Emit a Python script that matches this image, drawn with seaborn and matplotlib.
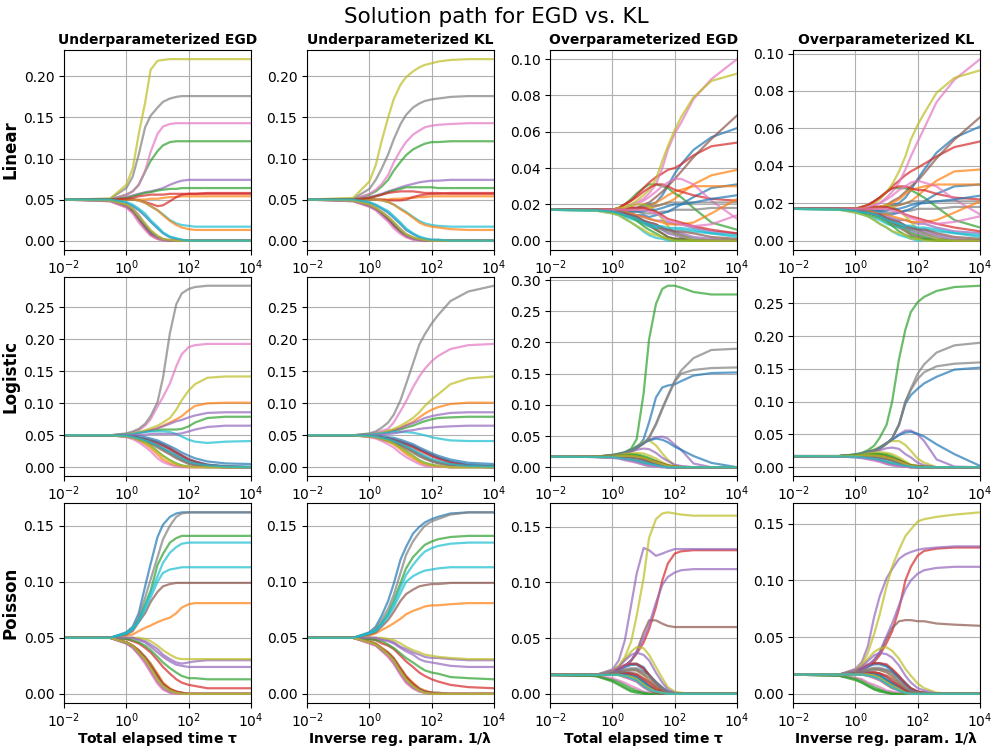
import pandas as pd
import matplotlib
matplotlib.use("Agg")
import matplotlib.pyplot as plt
from matplotlib.ticker import NullLocator, MultipleLocator
import seaborn as sns

plt.rcParams["xtick.labelsize"] = 10
plt.rcParams["ytick.labelsize"] = 10
plt.rcParams["xtick.major.pad"] = 2.5

# sample positions along the path (time tau or 1/lambda)
XS = [0.01, 0.3, 1, 1.6, 2.5, 4, 6, 10, 15, 25, 40, 60, 100, 160, 400, 1500, 10000]

# solution weights along the path, in units of 1e-3; one row per feature
lin_under_egd = [
    [50, 49, 43, 37, 29, 18, 10, 4, 1, 0, 0, 0, 0, 0, 0, 0, 0],
    [50, 50, 50, 50, 50, 50, 51, 51, 52, 53, 53, 54, 54, 54, 54, 54, 54],
    [50, 50, 56, 60, 68, 84, 97, 109, 116, 120, 121, 121, 121, 121, 121, 121, 121],
    [50, 50, 50, 50, 49, 47, 45, 42, 43, 48, 53, 56, 57, 57, 58, 58, 58],
    [50, 50, 53, 55, 57, 59, 60, 62, 64, 68, 71, 73, 74, 74, 74, 74, 74],
    [50, 49, 42, 36, 27, 16, 8, 3, 1, 0, 0, 0, 0, 0, 0, 0, 0],
    [50, 50, 56, 60, 68, 85, 108, 130, 139, 142, 143, 143, 143, 143, 143, 143, 143],
    [50, 51, 64, 78, 105, 138, 152, 162, 169, 173, 175, 176, 176, 176, 176, 176, 176],
    [50, 51, 68, 88, 130, 168, 208, 219, 220, 221, 221, 221, 221, 221, 221, 221, 221],
    [50, 50, 50, 50, 49, 46, 42, 37, 32, 25, 21, 19, 18, 17, 17, 17, 17],
    [50, 50, 46, 42, 37, 30, 23, 15, 9, 4, 2, 1, 0, 0, 0, 0, 0],
    [50, 50, 50, 50, 49, 46, 42, 37, 31, 24, 19, 16, 14, 13, 13, 13, 13],
    [50, 50, 52, 54, 56, 58, 59, 61, 62, 63, 63, 64, 64, 64, 64, 64, 64],
    [50, 50, 51, 52, 54, 55, 56, 56, 56, 57, 57, 57, 57, 57, 57, 57, 57],
    [50, 49, 44, 39, 31, 20, 12, 5, 2, 0, 0, 0, 0, 0, 0, 0, 0],
    [50, 48, 41, 35, 25, 15, 7, 2, 1, 0, 0, 0, 0, 0, 0, 0, 0],
    [50, 48, 40, 33, 22, 13, 6, 2, 0, 0, 0, 0, 0, 0, 0, 0, 0],
    [50, 49, 43, 38, 28, 19, 11, 5, 2, 0, 0, 0, 0, 0, 0, 0, 0],
    [50, 49, 44, 39, 30, 21, 13, 6, 2, 1, 0, 0, 0, 0, 0, 0, 0],
    [50, 50, 47, 44, 39, 33, 25, 17, 10, 5, 3, 1, 0, 0, 0, 0, 0],
]
lin_under_kl = [
    [50, 49, 43, 39, 34, 27, 20, 12, 6, 3, 1, 0, 0, 0, 0, 0, 0],
    [50, 50, 50, 50, 50, 50, 51, 51, 52, 52, 53, 53, 54, 54, 54, 54, 54],
    [50, 50, 56, 60, 66, 74, 85, 96, 104, 111, 115, 118, 120, 120, 121, 121, 121],
    [50, 50, 50, 50, 50, 49, 49, 49, 50, 53, 55, 56, 57, 57, 58, 58, 58],
    [50, 50, 53, 55, 57, 60, 62, 65, 67, 69, 71, 72, 73, 73, 74, 74, 74],
    [50, 49, 42, 38, 33, 26, 19, 11, 6, 2, 1, 0, 0, 0, 0, 0, 0],
    [50, 50, 57, 62, 69, 80, 95, 110, 120, 129, 134, 138, 140, 141, 142, 143, 143],
    [50, 51, 63, 74, 88, 105, 123, 142, 153, 162, 167, 170, 172, 173, 175, 176, 176],
    [50, 52, 72, 92, 122, 150, 172, 190, 199, 206, 211, 214, 216, 218, 220, 221, 221],
    [50, 50, 50, 50, 49, 47, 44, 39, 35, 29, 24, 21, 19, 18, 17, 17, 17],
    [50, 50, 46, 43, 39, 34, 28, 20, 13, 8, 4, 2, 1, 1, 0, 0, 0],
    [50, 50, 50, 50, 49, 47, 44, 38, 34, 28, 22, 19, 17, 16, 14, 13, 13],
    [50, 50, 52, 54, 56, 59, 61, 63, 65, 65, 65, 65, 65, 64, 64, 64, 64],
    [50, 50, 52, 54, 56, 58, 59, 60, 60, 60, 59, 58, 58, 58, 57, 57, 57],
    [50, 49, 44, 40, 35, 29, 22, 14, 8, 4, 1, 0, 0, 0, 0, 0, 0],
    [50, 48, 42, 38, 32, 25, 18, 10, 5, 2, 1, 0, 0, 0, 0, 0, 0],
    [50, 48, 41, 37, 30, 23, 15, 8, 4, 1, 0, 0, 0, 0, 0, 0, 0],
    [50, 49, 43, 39, 34, 28, 21, 12, 7, 3, 1, 0, 0, 0, 0, 0, 0],
    [50, 49, 44, 40, 35, 29, 23, 14, 8, 4, 2, 1, 0, 0, 0, 0, 0],
    [50, 50, 47, 44, 40, 36, 30, 22, 15, 9, 5, 3, 1, 1, 0, 0, 0],
]
lin_over_egd = [
    [17, 17, 17, 17, 17, 18, 18, 19, 20, 21, 25, 30, 37, 42, 50, 57, 62],
    [17, 17, 17, 17, 17, 17, 17, 17, 18, 19, 20, 21, 23, 26, 31, 36, 39],
    [17, 17, 17, 18, 20, 23, 26, 29, 31, 31, 30, 29, 26, 24, 18, 10, 6],
    [17, 17, 17, 18, 20, 22, 25, 29, 32, 35, 37, 39, 40, 42, 47, 52, 54],
    [17, 17, 16, 15, 14, 13, 12, 10, 9, 7, 6, 4, 3, 2, 0, 0, 0],
    [17, 17, 17, 17, 17, 18, 18, 20, 21, 24, 27, 30, 34, 38, 46, 56, 69],
    [17, 17, 17, 17, 18, 20, 21, 23, 26, 31, 40, 50, 59, 65, 78, 89, 100],
    [17, 17, 17, 17, 16, 16, 16, 15, 15, 15, 16, 16, 17, 17, 17, 18, 18],
    [17, 17, 17, 18, 19, 20, 22, 25, 28, 34, 44, 52, 61, 68, 79, 88, 92],
    [17, 16.5, 15, 14, 12, 10, 8, 5, 3, 1.5, 1, 0, 0, 0, 0, 0, 0],
    [17, 17, 17, 16, 16, 15, 14, 14, 13, 14, 15, 16, 18, 20, 24, 29, 31],
    [17, 17, 17, 17, 17, 17, 18, 18, 19, 21, 23, 25, 27, 28, 30, 30, 30],
    [17, 17, 16, 16, 15, 14, 13, 11, 9, 6, 4, 2, 1, 1, 0, 0, 0],
    [17, 17, 17, 18, 20, 22, 24, 27, 29, 31, 31, 30, 28, 27, 25, 23, 22],
    [17, 17, 16, 15, 15, 14, 14, 13, 12, 11, 11, 10, 9, 9, 7, 5, 4],
    [17, 17, 16, 16, 15, 13, 12, 10, 8, 6, 4, 2, 1, 1, 0, 0, 0],
    [17, 17, 17, 17, 18, 19, 20, 22, 24, 27, 30, 32, 34, 34, 31, 22, 12],
    [17, 17, 17, 17, 17, 18, 18, 18, 19, 19, 20, 21, 21, 21, 21, 21, 21],
    [17, 17, 17, 18, 18, 19, 20, 20, 19, 16, 12, 8, 4, 3, 0, 0, 0],
    [17, 16.5, 16, 15, 13, 12, 11, 9, 8, 7, 7, 6, 6, 6, 5, 4, 3],
    [17, 17, 17, 16, 16, 16, 16, 16, 17, 17, 18, 19, 20, 20, 21, 23, 25],
    [17, 17, 17, 16, 16, 15, 14, 13, 12, 11, 10, 9, 9, 9, 10, 15, 23],
    [17, 17, 16, 15, 14, 13, 11, 8, 6, 4, 2, 1, 0, 0, 0, 0, 0],
    [17, 17, 17, 17, 17, 18, 18, 18, 17, 16, 14, 12, 11, 10, 8, 6, 4],
    [17, 17, 16, 16, 15, 14, 13, 11, 10, 9, 7, 6, 5, 4, 2, 1, 0],
    [17, 17, 16, 16, 15, 14, 13, 11, 10, 9, 7, 6, 5, 5, 4, 2, 1],
    [17, 17, 17, 17, 17, 17, 17, 17, 16, 15, 13, 11, 10, 9, 8, 9, 14],
    [17, 17, 16, 16, 14, 13, 12, 10, 9, 8, 6, 5, 4, 3, 1, 0, 0],
    [17, 16.5, 15, 14, 12, 10, 8, 6, 4, 3, 2, 1, 0, 0, 0, 0, 0],
    [17, 16.6, 16, 15, 14, 13, 12, 10, 9, 8, 8, 7, 7, 7, 6, 4, 2],
]
lin_over_kl = [
    [17, 17, 17, 17, 17, 18, 18, 18, 19, 20, 23, 27, 33, 38, 47, 55, 61],
    [17, 17, 17, 17, 17, 17, 17, 17, 18, 19, 20, 21, 24, 27, 32, 37, 38],
    [17, 17, 17, 18, 19, 21, 23, 26, 28, 28, 28, 27, 25, 23, 18, 11, 7],
    [17, 17, 17, 18, 19, 21, 23, 26, 29, 32, 35, 37, 39, 41, 45, 50, 53],
    [17, 17, 16, 16, 15, 14, 13, 11, 10, 8, 7, 5, 4, 3, 1, 0, 0],
    [17, 17, 17, 17, 17, 18, 18, 19, 21, 23, 26, 29, 32, 36, 44, 54, 66],
    [17, 17, 17, 17, 18, 19, 20, 23, 26, 31, 38, 45, 53, 60, 74, 86, 97],
    [17, 17, 17, 17, 16, 16, 16, 15, 15, 15, 16, 16, 17, 17, 17, 18, 18],
    [17, 17, 17, 18, 19, 20, 22, 26, 30, 37, 45, 54, 62, 68, 79, 87, 91],
    [17, 16.5, 15, 14, 13, 11, 9, 7, 5, 3, 2, 1, 0, 0, 0, 0, 0],
    [17, 17, 17, 16, 16, 15, 15, 14, 14, 15, 16, 17, 19, 21, 25, 29, 30],
    [17, 17, 17, 17, 17, 17, 18, 19, 20, 22, 25, 27, 28, 29, 30, 30, 30],
    [17, 17, 16, 16, 15, 14, 13, 11, 10, 8, 6, 4, 3, 2, 0, 0, 0],
    [17, 17, 17, 18, 19, 21, 23, 26, 28, 29, 29, 28, 27, 27, 25, 23, 22],
    [17, 17, 16, 15, 15, 14, 14, 13, 12, 11, 11, 10, 9, 9, 7, 5, 4],
    [17, 17, 16, 16, 15, 14, 13, 11, 9, 7, 5, 3, 2, 1, 0, 0, 0],
    [17, 17, 17, 17, 18, 19, 20, 22, 24, 27, 29, 31, 32, 31, 29, 22, 14],
    [17, 17, 17, 17, 17, 18, 18, 18, 19, 19, 20, 21, 21, 21, 21, 21, 21],
    [17, 17, 17, 17, 17, 18, 18, 19, 18, 16, 13, 10, 6, 4, 1, 0, 0],
    [17, 16.5, 16, 15, 13, 12, 11, 9, 8, 7, 7, 6, 6, 6, 5, 4, 3],
    [17, 17, 17, 16, 16, 16, 16, 16, 17, 17, 18, 19, 20, 20, 21, 22, 24],
    [17, 17, 17, 16, 16, 15, 14, 14, 13, 12, 11, 10, 10, 10, 11, 15, 21],
    [17, 17, 16, 15, 14, 13, 12, 10, 8, 5, 3, 2, 1, 1, 0, 0, 0],
    [17, 17, 17, 17, 17, 18, 18, 18, 17, 16, 14, 13, 12, 11, 9, 7, 5],
    [17, 17, 16, 16, 15, 14, 14, 12, 11, 10, 8, 7, 6, 5, 3, 1, 0],
    [17, 17, 16, 16, 15, 14, 14, 12, 11, 10, 8, 7, 6, 6, 4, 2, 1],
    [17, 17, 17, 17, 17, 17, 17, 17, 16, 15, 14, 12, 11, 10, 9, 10, 13],
    [17, 17, 16, 16, 15, 14, 13, 11, 10, 9, 7, 6, 5, 4, 2, 0, 0],
    [17, 16.5, 15, 14, 13, 11, 9, 7, 5, 4, 3, 1, 1, 0, 0, 0, 0],
    [17, 16.6, 16, 15, 15, 14, 13, 11, 10, 9, 8, 8, 7, 7, 6, 4, 2],
]
log_under_egd = [
    [50, 50, 50, 49, 49, 47, 45, 42, 38, 33, 28, 23, 18, 14, 9, 6, 5],
    [50, 50, 51, 52, 54, 56, 58, 61, 65, 70, 75, 80, 89, 96, 100, 101, 101],
    [50, 50, 51, 52, 54, 56, 57, 58, 59, 59, 59, 60, 64, 70, 77, 79, 79],
    [50, 50, 49, 48, 46, 44, 42, 39, 35, 30, 24, 19, 13, 9, 4, 1, 0],
    [50, 50, 51, 52, 54, 56, 58, 61, 64, 68, 72, 74, 78, 81, 85, 86, 86],
    [50, 50, 49, 47, 45, 42, 39, 34, 29, 24, 18, 13, 8, 5, 2, 0, 0],
    [50, 50, 52, 54, 58, 65, 75, 95, 110, 131, 158, 177, 188, 191, 193, 193, 193],
    [50, 50, 53, 56, 60, 68, 80, 102, 140, 210, 255, 272, 279, 282, 284, 284, 284],
    [50, 50, 51, 53, 55, 58, 61, 65, 70, 77, 90, 105, 120, 130, 140, 142, 142],
    [50, 50, 51, 52, 54, 55, 56, 56, 56, 55, 52, 48, 43, 40, 38, 40, 41],
    [50, 50, 49, 48, 46, 44, 42, 39, 35, 29, 23, 18, 12, 9, 4, 2, 1],
    [50, 50, 48, 46, 42, 36, 30, 20, 12, 6, 3, 1, 0, 0, 0, 0, 0],
    [50, 50, 48, 46, 43, 39, 34, 25, 18, 11, 6, 3, 1, 1, 0, 0, 0],
    [50, 50, 49, 48, 45, 43, 40, 36, 33, 28, 22, 17, 11, 8, 3, 1, 0],
    [50, 50, 50, 50, 51, 51, 52, 52, 52, 52, 52, 53, 56, 59, 63, 65, 65],
    [50, 50, 48, 46, 44, 41, 37, 31, 26, 20, 14, 10, 5, 3, 1, 0, 0],
    [50, 50, 47, 44, 39, 32, 25, 14, 8, 4, 1, 0, 0, 0, 0, 0, 0],
    [50, 50, 49, 47, 45, 42, 39, 33, 28, 22, 16, 11, 7, 4, 1, 0, 0],
    [50, 50, 48, 46, 43, 39, 33, 24, 17, 10, 5, 2, 1, 0, 0, 0, 0],
    [50, 50, 49, 47, 45, 42, 39, 34, 30, 24, 19, 14, 9, 6, 3, 1, 0],
]
log_under_kl = [
    [50, 50, 50, 49, 49, 47, 46, 43, 40, 36, 31, 27, 22, 18, 12, 7, 5],
    [50, 50, 51, 52, 54, 56, 58, 62, 66, 71, 78, 84, 90, 94, 99, 101, 101],
    [50, 50, 51, 52, 54, 55, 57, 59, 62, 65, 69, 72, 75, 77, 78, 79, 79],
    [50, 50, 49, 48, 46, 45, 43, 40, 37, 33, 28, 24, 19, 15, 8, 3, 1],
    [50, 50, 51, 52, 54, 56, 58, 61, 65, 69, 73, 77, 80, 82, 85, 86, 86],
    [50, 50, 49, 48, 46, 43, 41, 36, 32, 26, 21, 16, 11, 8, 4, 1, 0],
    [50, 50, 52, 54, 57, 60, 70, 88, 103, 125, 142, 154, 166, 174, 185, 191, 193],
    [50, 50, 53, 56, 62, 70, 82, 105, 130, 162, 192, 208, 225, 238, 260, 275, 284],
    [50, 50, 51, 52, 54, 57, 60, 65, 70, 77, 86, 96, 106, 114, 130, 139, 142],
    [50, 50, 51, 52, 53, 54, 55, 55, 55, 54, 52, 50, 47, 45, 42, 41, 41],
    [50, 50, 49, 48, 46, 45, 43, 40, 37, 33, 28, 24, 19, 15, 9, 4, 2],
    [50, 50, 48, 46, 43, 40, 36, 28, 21, 14, 8, 4, 2, 1, 0, 0, 0],
    [50, 50, 48, 47, 44, 41, 38, 31, 25, 18, 11, 7, 4, 2, 0, 0, 0],
    [50, 50, 49, 48, 46, 44, 42, 38, 35, 31, 26, 22, 17, 13, 7, 2, 1],
    [50, 50, 50, 50, 51, 52, 53, 55, 57, 58, 60, 61, 62, 63, 64, 65, 65],
    [50, 50, 48, 47, 44, 42, 39, 34, 29, 23, 17, 13, 9, 6, 3, 1, 0],
    [50, 50, 47, 45, 41, 36, 31, 22, 16, 10, 5, 2, 1, 1, 0, 0, 0],
    [50, 50, 49, 48, 45, 43, 40, 35, 31, 25, 19, 15, 10, 7, 3, 1, 0],
    [50, 50, 48, 47, 44, 41, 37, 30, 24, 17, 10, 6, 3, 2, 0, 0, 0],
    [50, 50, 49, 48, 46, 44, 41, 37, 33, 28, 22, 18, 13, 10, 5, 2, 1],
]
log_over_egd = [
    [17, 17, 19, 21, 23, 26, 30, 45, 72, 112, 128, 131, 133, 138, 147, 151, 152],
    [17, 17, 18, 19, 19, 19, 18, 16, 12, 7, 4, 1, 0, 0, 0, 0, 0],
    [17, 17, 20, 22, 24, 30, 45, 118, 205, 262, 286, 291, 291, 288, 281, 277, 277],
    [17, 17, 17, 18, 18, 18, 17, 14, 11, 7, 4, 1, 0, 0, 0, 0, 0],
    [17, 17, 19, 21, 23, 27, 31, 38, 44, 48, 49, 46, 36, 28, 6, 0, 0],
    [17, 17, 17, 17, 17, 16, 15, 11, 8, 5, 2, 0, 0, 0, 0, 0, 0],
    [17, 16.5, 16, 15, 13, 11, 9, 6, 3, 2, 1, 0, 0, 0, 0, 0, 0],
    [17, 17, 19, 21, 23, 26, 30, 38, 48, 70, 95, 115, 139, 155, 175, 188, 190],
    [17, 17, 19, 21, 24, 28, 34, 41, 43, 35, 22, 12, 3, 1, 0, 0, 0],
    [17, 16.5, 15, 14, 12, 10, 8, 4, 2, 1, 0, 0, 0, 0, 0, 0, 0],
    [17, 17, 19, 21, 24, 28, 33, 39, 43, 46, 44, 40, 33, 28, 18, 7, 0],
    [17, 17, 17, 18, 18, 17, 16, 12, 9, 6, 4, 2, 1, 0, 0, 0, 0],
    [17, 17, 18, 19, 20, 21, 21, 18, 15, 10, 6, 3, 1, 0, 0, 0, 0],
    [17, 17, 17, 17, 17, 16, 15, 12, 9, 6, 3, 1, 0, 0, 0, 0, 0],
    [17, 17, 18, 20, 22, 25, 28, 30, 29, 23, 15, 10, 4, 2, 0, 0, 0],
    [17, 16.5, 16, 15, 14, 13, 11, 7, 5, 3, 1, 0, 0, 0, 0, 0, 0],
    [17, 16.5, 16, 15, 14, 12, 10, 6, 4, 2, 1, 0, 0, 0, 0, 0, 0],
    [17, 17, 19, 21, 23, 26, 30, 38, 47, 68, 93, 113, 137, 150, 156, 159, 160],
    [17, 17, 18, 19, 21, 22, 23, 22, 19, 14, 8, 4, 1, 0, 0, 0, 0],
    [17, 16.5, 16, 15, 14, 13, 11, 8, 6, 3, 2, 0, 0, 0, 0, 0, 0],
    [17, 17, 17, 17, 17, 16, 15, 12, 10, 6, 3, 1, 0, 0, 0, 0, 0],
    [17, 16.5, 16, 15, 14, 12, 10, 6, 4, 2, 1, 0, 0, 0, 0, 0, 0],
    [17, 17, 18, 19, 19, 20, 19, 16, 13, 9, 5, 2, 0, 0, 0, 0, 0],
    [17, 17, 17, 17, 17, 17, 16, 13, 11, 8, 5, 2, 1, 0, 0, 0, 0],
    [17, 16.5, 16, 15, 13, 11, 9, 5, 3, 2, 1, 0, 0, 0, 0, 0, 0],
    [17, 17, 17, 17, 17, 17, 16, 14, 12, 9, 6, 3, 1, 0, 0, 0, 0],
    [17, 16.5, 15, 14, 11, 9, 7, 4, 2, 1, 0, 0, 0, 0, 0, 0, 0],
    [17, 17, 17, 17, 17, 16, 15, 12, 9, 6, 3, 1, 0, 0, 0, 0, 0],
    [17, 17, 17, 18, 18, 18, 17, 15, 12, 8, 5, 2, 1, 0, 0, 0, 0],
    [17, 16.5, 16, 15, 13, 12, 10, 7, 5, 3, 1, 0, 0, 0, 0, 0, 0],
]
log_over_kl = [
    [17, 17, 19, 20, 22, 25, 28, 36, 44, 65, 97, 110, 120, 128, 138, 149, 152],
    [17, 17, 18, 19, 19, 19, 19, 17, 14, 10, 6, 2, 1, 0, 0, 0, 0],
    [17, 17, 20, 22, 26, 33, 45, 65, 100, 165, 210, 237, 252, 260, 269, 275, 277],
    [17, 17, 17, 18, 18, 18, 17, 15, 13, 9, 5, 2, 1, 0, 0, 0, 0],
    [17, 17, 19, 21, 24, 26, 30, 37, 42, 50, 56, 56, 50, 40, 12, 1, 0],
    [17, 17, 17, 17, 17, 16, 15, 12, 10, 6, 3, 1, 0, 0, 0, 0, 0],
    [17, 16.5, 16, 15, 13, 12, 10, 6, 4, 2, 1, 0, 0, 0, 0, 0, 0],
    [17, 17, 19, 20, 22, 25, 28, 36, 44, 65, 100, 120, 143, 157, 175, 186, 190],
    [17, 17, 19, 21, 24, 27, 31, 37, 40, 40, 34, 25, 13, 7, 0, 0, 0],
    [17, 16.5, 15, 14, 13, 11, 9, 5, 3, 2, 1, 0, 0, 0, 0, 0, 0],
    [17, 17, 19, 21, 24, 26, 30, 37, 42, 49, 53, 54, 51, 47, 35, 20, 2],
    [17, 17, 17, 18, 18, 17, 16, 14, 11, 7, 4, 1, 0, 0, 0, 0, 0],
    [17, 17, 18, 19, 20, 21, 21, 20, 17, 12, 7, 3, 2, 1, 0, 0, 0],
    [17, 17, 17, 17, 17, 16, 15, 13, 11, 7, 4, 1, 0, 0, 0, 0, 0],
    [17, 17, 18, 19, 21, 24, 26, 29, 30, 28, 20, 15, 7, 3, 0, 0, 0],
    [17, 16.5, 16, 15, 14, 13, 12, 8, 6, 4, 2, 1, 0, 0, 0, 0, 0],
    [17, 16.5, 16, 15, 14, 13, 11, 7, 5, 3, 1, 0, 0, 0, 0, 0, 0],
    [17, 17, 19, 20, 22, 25, 28, 36, 44, 65, 100, 118, 135, 145, 154, 158, 160],
    [17, 17, 18, 19, 21, 22, 23, 22, 20, 15, 9, 4, 2, 1, 0, 0, 0],
    [17, 16.5, 16, 15, 14, 13, 12, 9, 7, 4, 2, 1, 0, 0, 0, 0, 0],
    [17, 17, 17, 17, 17, 16, 15, 14, 12, 8, 5, 2, 1, 0, 0, 0, 0],
    [17, 16.5, 16, 15, 14, 13, 11, 7, 5, 3, 1, 0, 0, 0, 0, 0, 0],
    [17, 17, 18, 19, 19, 20, 20, 18, 15, 11, 6, 2, 1, 0, 0, 0, 0],
    [17, 17, 17, 17, 17, 17, 16, 15, 13, 9, 5, 2, 1, 0, 0, 0, 0],
    [17, 16.5, 16, 15, 13, 12, 10, 6, 4, 2, 1, 0, 0, 0, 0, 0, 0],
    [17, 17, 17, 17, 17, 17, 16, 15, 13, 10, 6, 3, 2, 1, 0, 0, 0],
    [17, 16.5, 15, 14, 12, 10, 8, 5, 3, 2, 1, 0, 0, 0, 0, 0, 0],
    [17, 17, 17, 17, 17, 16, 15, 13, 11, 7, 3, 1, 0, 0, 0, 0, 0],
    [17, 17, 17, 18, 18, 18, 17, 15, 13, 9, 5, 2, 1, 0, 0, 0, 0],
    [17, 16.5, 16, 15, 14, 13, 11, 8, 6, 4, 2, 1, 0, 0, 0, 0, 0],
]
poi_under_egd = [
    [50, 50, 55, 60, 72, 96, 116, 140, 151, 158, 161, 162, 162, 162, 162, 162, 162],
    [50, 50, 52, 53, 56, 59, 61, 64, 66, 68, 72, 77, 80, 81, 81, 81, 81],
    [50, 50, 54, 58, 66, 80, 92, 115, 125, 135, 139, 141, 141, 141, 141, 141, 141],
    [50, 50, 49, 47, 45, 41, 37, 30, 24, 18, 13, 10, 8, 7, 5, 5, 5],
    [50, 50, 50, 50, 49, 47, 44, 40, 35, 31, 28, 27, 28, 29, 30, 30, 30],
    [50, 50, 53, 56, 64, 72, 82, 91, 96, 98, 99, 99, 99, 99, 99, 99, 99],
    [50, 50, 45, 41, 35, 28, 20, 10, 4, 1, 0, 0, 0, 0, 0, 0, 0],
    [50, 50, 54, 58, 68, 86, 102, 122, 138, 150, 158, 161, 162, 162, 162, 162, 162],
    [50, 50, 50, 50, 50, 49, 47, 43, 39, 35, 32, 31, 31, 31, 31, 31, 31],
    [50, 50, 54, 58, 65, 78, 90, 105, 117, 126, 131, 134, 135, 135, 135, 135, 135],
    [50, 50, 46, 43, 39, 33, 27, 17, 9, 4, 2, 1, 0, 0, 0, 0, 0],
    [50, 50, 46, 43, 39, 33, 27, 18, 10, 5, 2, 1, 0, 0, 0, 0, 0],
    [50, 50, 49, 48, 46, 43, 39, 33, 28, 23, 19, 16, 14, 14, 13, 13, 13],
    [50, 50, 46, 43, 38, 32, 25, 16, 9, 4, 2, 1, 0, 0, 0, 0, 0],
    [50, 50, 50, 50, 48, 46, 42, 37, 33, 29, 26, 25, 24, 24, 24, 24, 24],
    [50, 50, 46, 43, 38, 32, 25, 15, 8, 4, 1, 0, 0, 0, 0, 0, 0],
    [50, 50, 45, 41, 35, 27, 19, 9, 4, 1, 0, 0, 0, 0, 0, 0, 0],
    [50, 50, 45, 42, 36, 30, 22, 12, 6, 2, 1, 0, 0, 0, 0, 0, 0],
    [50, 50, 46, 43, 37, 31, 23, 13, 7, 3, 1, 0, 0, 0, 0, 0, 0],
    [50, 50, 54, 58, 65, 75, 86, 100, 108, 111, 112, 113, 113, 113, 113, 113, 113],
]
poi_under_kl = [
    [50, 50, 55, 60, 70, 83, 98, 120, 131, 143, 149, 153, 156, 158, 161, 162, 162],
    [50, 50, 52, 54, 57, 60, 63, 67, 71, 74, 76, 78, 79, 79, 80, 81, 81],
    [50, 50, 54, 57, 63, 72, 83, 99, 112, 122, 128, 133, 136, 138, 140, 141, 141],
    [50, 50, 49, 48, 45, 43, 40, 34, 29, 24, 19, 16, 13, 11, 8, 6, 5],
    [50, 50, 50, 50, 49, 48, 46, 42, 40, 37, 35, 33, 32, 32, 31, 30, 30],
    [50, 50, 53, 55, 60, 66, 73, 83, 89, 93, 96, 97, 98, 98, 99, 99, 99],
    [50, 50, 45, 43, 39, 33, 27, 17, 10, 5, 2, 1, 0, 0, 0, 0, 0],
    [50, 50, 54, 58, 66, 76, 88, 108, 124, 136, 144, 150, 154, 156, 160, 162, 162],
    [50, 50, 50, 50, 50, 49, 48, 45, 42, 39, 37, 35, 34, 33, 32, 31, 31],
    [50, 50, 54, 57, 63, 71, 80, 95, 106, 115, 122, 127, 130, 132, 134, 135, 135],
    [50, 50, 47, 45, 41, 37, 32, 23, 16, 9, 5, 2, 1, 1, 0, 0, 0],
    [50, 50, 47, 45, 41, 37, 32, 23, 16, 10, 5, 3, 1, 1, 0, 0, 0],
    [50, 50, 49, 48, 47, 44, 41, 36, 32, 28, 24, 21, 19, 18, 15, 14, 13],
    [50, 50, 46, 44, 40, 36, 31, 22, 15, 9, 4, 2, 1, 0, 0, 0, 0],
    [50, 50, 50, 50, 48, 47, 45, 41, 38, 35, 31, 29, 28, 27, 25, 24, 24],
    [50, 50, 46, 44, 40, 36, 31, 21, 14, 8, 4, 2, 1, 0, 0, 0, 0],
    [50, 50, 45, 43, 38, 33, 27, 17, 10, 5, 2, 1, 0, 0, 0, 0, 0],
    [50, 50, 46, 44, 39, 35, 29, 19, 12, 6, 3, 1, 0, 0, 0, 0, 0],
    [50, 50, 46, 44, 40, 35, 30, 20, 13, 7, 3, 1, 0, 0, 0, 0, 0],
    [50, 50, 54, 56, 62, 69, 77, 90, 100, 105, 108, 110, 111, 112, 113, 113, 113],
]
poi_over_egd = [
    [17, 17, 20, 22, 25, 27, 27, 24, 17, 10, 5, 2, 0, 0, 0, 0, 0],
    [17, 17, 19, 20, 21, 22, 21, 17, 12, 6, 3, 1, 0, 0, 0, 0, 0],
    [17, 16, 11, 8, 5, 2, 1, 0, 0, 0, 0, 0, 0, 0, 0, 0, 0],
    [17, 17, 19, 21, 25, 30, 36, 46, 58, 78, 102, 117, 126, 128, 129, 129, 129],
    [17, 17, 22, 30, 48, 80, 108, 131, 129, 124, 126, 128, 130, 130, 130, 130, 130],
    [17, 17, 19, 21, 25, 30, 38, 55, 66, 66, 63, 61, 60, 60, 60, 60, 60],
    [17, 17, 18, 19, 19, 18, 16, 11, 7, 3, 1, 0, 0, 0, 0, 0, 0],
    [17, 17, 19, 20, 22, 23, 23, 20, 17, 11, 6, 2, 1, 0, 0, 0, 0],
    [17, 17, 21, 25, 33, 47, 70, 104, 140, 157, 162, 163, 162, 161, 160, 160, 160],
    [17, 17, 18, 19, 19, 18, 16, 11, 7, 3, 1, 0, 0, 0, 0, 0, 0],
    [17, 17, 20, 22, 24, 26, 26, 22, 17, 10, 5, 2, 0, 0, 0, 0, 0],
    [17, 17, 18, 18, 17, 16, 14, 9, 5, 2, 1, 0, 0, 0, 0, 0, 0],
    [17, 16, 13, 11, 8, 5, 3, 1, 0, 0, 0, 0, 0, 0, 0, 0, 0],
    [17, 17, 20, 23, 26, 27, 27, 23, 17, 9, 4, 1, 0, 0, 0, 0, 0],
    [17, 17, 19, 21, 25, 30, 37, 50, 62, 82, 98, 105, 109, 111, 112, 112, 112],
    [17, 17, 18, 19, 19, 19, 18, 14, 11, 6, 3, 1, 0, 0, 0, 0, 0],
    [17, 16, 14, 12, 10, 7, 5, 2, 1, 0, 0, 0, 0, 0, 0, 0, 0],
    [17, 17, 19, 20, 21, 22, 22, 19, 16, 10, 5, 2, 0, 0, 0, 0, 0],
    [17, 17, 21, 25, 31, 38, 42, 41, 35, 24, 14, 6, 2, 1, 0, 0, 0],
    [17, 17, 18, 18, 17, 16, 14, 9, 6, 3, 1, 0, 0, 0, 0, 0, 0],
    [17, 17, 18, 18, 18, 17, 15, 11, 7, 3, 1, 0, 0, 0, 0, 0, 0],
    [17, 17, 17, 17, 16, 15, 13, 8, 5, 2, 1, 0, 0, 0, 0, 0, 0],
    [17, 16, 12, 9, 6, 3, 2, 1, 0, 0, 0, 0, 0, 0, 0, 0, 0],
    [17, 17, 18, 19, 19, 18, 17, 13, 9, 4, 2, 0, 0, 0, 0, 0, 0],
    [17, 17, 21, 24, 30, 35, 37, 35, 30, 19, 10, 4, 1, 0, 0, 0, 0],
    [17, 17, 17, 17, 15, 13, 11, 6, 3, 1, 0, 0, 0, 0, 0, 0, 0],
    [17, 17, 17, 17, 15, 13, 11, 6, 4, 2, 1, 0, 0, 0, 0, 0, 0],
    [17, 17, 18, 19, 20, 21, 21, 17, 14, 8, 4, 1, 0, 0, 0, 0, 0],
    [17, 17, 17, 17, 16, 15, 13, 8, 5, 2, 1, 0, 0, 0, 0, 0, 0],
    [17, 17, 17, 17, 16, 14, 12, 7, 4, 2, 1, 0, 0, 0, 0, 0, 0],
]
poi_over_kl = [
    [17, 17, 20, 22, 25, 27, 27, 25, 21, 15, 10, 5, 2, 1, 0, 0, 0],
    [17, 17, 19, 20, 21, 22, 21, 19, 15, 10, 5, 2, 1, 0, 0, 0, 0],
    [17, 16, 12, 10, 7, 4, 2, 1, 0, 0, 0, 0, 0, 0, 0, 0, 0],
    [17, 17, 19, 21, 24, 28, 34, 45, 55, 75, 100, 112, 122, 126, 128, 129, 129],
    [17, 17, 22, 28, 42, 68, 86, 102, 110, 119, 123, 125, 127, 128, 129, 130, 130],
    [17, 17, 19, 21, 25, 30, 36, 49, 58, 64, 65, 65, 64, 64, 62, 61, 60],
    [17, 17, 18, 19, 19, 18, 17, 13, 10, 6, 3, 1, 0, 0, 0, 0, 0],
    [17, 17, 19, 20, 22, 23, 23, 21, 19, 14, 8, 4, 2, 1, 0, 0, 0],
    [17, 17, 21, 26, 36, 53, 70, 95, 112, 127, 139, 145, 152, 154, 156, 158, 160],
    [17, 17, 18, 19, 19, 18, 17, 13, 10, 6, 3, 1, 0, 0, 0, 0, 0],
    [17, 17, 20, 22, 24, 26, 26, 24, 20, 14, 8, 4, 1, 1, 0, 0, 0],
    [17, 17, 18, 18, 18, 17, 15, 11, 8, 4, 2, 1, 0, 0, 0, 0, 0],
    [17, 16, 14, 12, 9, 6, 4, 2, 1, 0, 0, 0, 0, 0, 0, 0, 0],
    [17, 17, 20, 23, 26, 27, 27, 26, 22, 16, 9, 5, 2, 1, 0, 0, 0],
    [17, 17, 19, 21, 25, 30, 37, 51, 62, 78, 92, 100, 106, 109, 111, 112, 112],
    [17, 17, 18, 19, 19, 19, 18, 16, 13, 8, 4, 2, 1, 0, 0, 0, 0],
    [17, 16, 14, 13, 10, 8, 6, 3, 2, 1, 0, 0, 0, 0, 0, 0, 0],
    [17, 17, 19, 20, 21, 22, 22, 21, 18, 12, 7, 3, 1, 0, 0, 0, 0],
    [17, 17, 21, 25, 31, 37, 40, 41, 38, 31, 22, 16, 9, 5, 1, 0, 0],
    [17, 17, 18, 18, 18, 17, 16, 12, 9, 5, 2, 1, 0, 0, 0, 0, 0],
    [17, 17, 18, 18, 18, 17, 16, 12, 9, 5, 2, 1, 0, 0, 0, 0, 0],
    [17, 17, 17, 17, 17, 16, 14, 10, 7, 4, 1, 0, 0, 0, 0, 0, 0],
    [17, 16, 13, 10, 7, 4, 3, 1, 0, 0, 0, 0, 0, 0, 0, 0, 0],
    [17, 17, 18, 19, 19, 19, 18, 15, 11, 7, 3, 1, 0, 0, 0, 0, 0],
    [17, 17, 21, 24, 29, 34, 36, 35, 32, 25, 16, 10, 5, 3, 0, 0, 0],
    [17, 17, 17, 17, 16, 14, 12, 8, 5, 3, 1, 0, 0, 0, 0, 0, 0],
    [17, 17, 17, 17, 16, 14, 12, 9, 6, 3, 1, 0, 0, 0, 0, 0, 0],
    [17, 17, 18, 19, 20, 21, 21, 19, 16, 10, 5, 2, 1, 0, 0, 0, 0],
    [17, 17, 17, 17, 17, 16, 14, 10, 7, 4, 1, 0, 0, 0, 0, 0, 0],
    [17, 17, 17, 17, 16, 15, 13, 9, 6, 3, 1, 0, 0, 0, 0, 0, 0],
]

ROW_LABELS = ["Linear", "Logistic", "Poisson"]
COL_TITLES = ["Underparameterized EGD", "Underparameterized KL",
              "Overparameterized EGD", "Overparameterized KL"]
X_LABELS = ["Total elapsed time $\\mathbf{\\tau}$",
            "Inverse reg. param. 1/$\\mathbf{\\lambda}$"] * 2
GRID = [
    [lin_under_egd, lin_under_kl, lin_over_egd, lin_over_kl],
    [log_under_egd, log_under_kl, log_over_egd, log_over_kl],
    [poi_under_egd, poi_under_kl, poi_over_egd, poi_over_kl],
]
Y_STEP = [[0.05, 0.05, 0.02, 0.02],
          [0.05, 0.05, 0.05, 0.05],
          [0.05, 0.05, 0.05, 0.05]]

tab10 = sns.color_palette("tab10", 10)


def to_long(paths):
    rows = []
    for k, path in enumerate(paths):
        assert len(path) == len(XS), (k, len(path))
        for x, w in zip(XS, path):
            rows.append({"x": x, "w": w / 1000.0, "feature": f"f{k:02d}"})
    return pd.DataFrame(rows)


fig, axes = plt.subplots(3, 4, figsize=(9.93, 7.47), dpi=100)
fig.subplots_adjust(left=0.0645, right=0.987, top=0.933, bottom=0.059,
                    wspace=0.30, hspace=0.135)

for r in range(3):
    for c in range(4):
        ax = axes[r, c]
        paths = GRID[r][c]
        df = to_long(paths)
        pal = [tab10[k % 10] for k in range(len(paths))]
        sns.lineplot(data=df, x="x", y="w", hue="feature", palette=pal,
                     estimator=None, legend=False, alpha=0.7, linewidth=1.6,
                     ax=ax)
        ax.set_xscale("log")
        ax.set_xlim(1e-2, 1e4)
        ax.set_xticks([1e-2, 1e0, 1e2, 1e4])
        ax.xaxis.set_minor_locator(NullLocator())
        ax.yaxis.set_major_locator(MultipleLocator(Y_STEP[r][c]))
        ax.grid(True, color="#b0b0b0", linewidth=0.8)
        ax.set_axisbelow(True)
        ax.set_xlabel("")
        ax.set_ylabel("")
        if r == 0:
            ax.set_title(COL_TITLES[c], fontsize=10, fontweight="bold", pad=4)
        if r == 2:
            ax.set_xlabel(X_LABELS[c], fontsize=10, fontweight="bold")
            ax.xaxis.set_label_coords(0.5, -0.136)
        if c == 0:
            ax.set_ylabel(ROW_LABELS[r], fontsize=12, fontweight="bold", labelpad=3)

fig.suptitle("Solution path for EGD vs. KL", fontsize=15.5, y=0.99)
fig.savefig("out.png", dpi=100)
